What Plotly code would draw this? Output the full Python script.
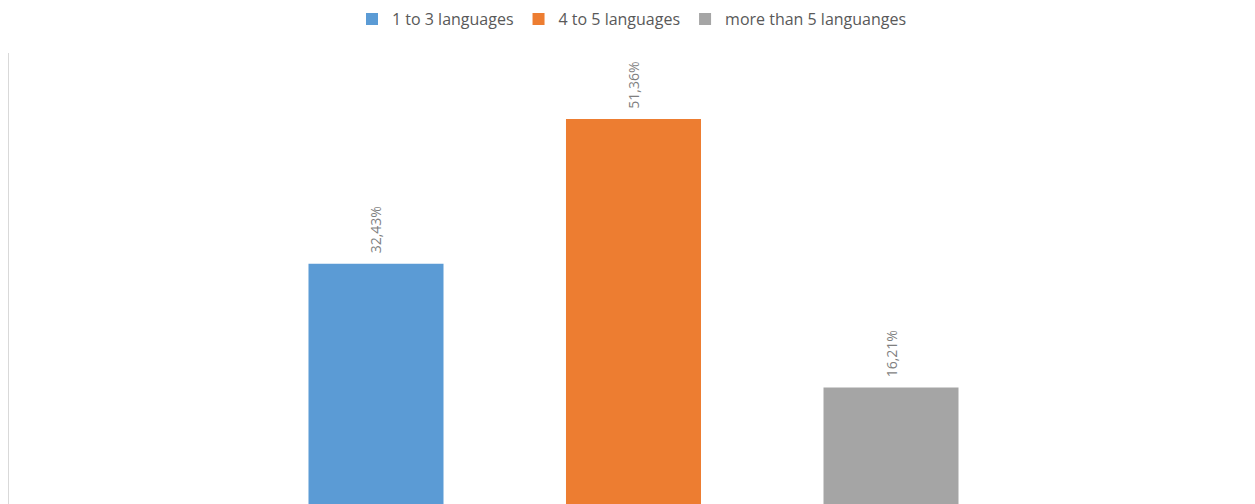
import plotly.graph_objects as go

series = ["1 to 3 languages", "4 to 5 languages", "more than 5 languanges"]
values = [32.43, 51.36, 16.21]
labels = ["32,43%", "51,36%", "16,21%"]
colors = ["#5B9BD5", "#ED7D31", "#A5A5A5"]

fig = go.Figure()
for name, v, lab, c in zip(series, values, labels, colors):
    fig.add_trace(go.Bar(
        x=[""], y=[v], name=name, marker_color=c, marker_line_width=0,
        text=[lab], textposition="outside", textangle=-90,
        texttemplate="\u00a0\u00a0%{text}",
        textfont=dict(color="#7f7f7f", size=14, family="Open Sans"),
        cliponaxis=False,
    ))

# page is rendered with an 8px body margin, so the figure is 8px smaller
fig.update_layout(
    width=1247, height=496,
    margin=dict(l=1, r=0, t=45, b=0, autoexpand=False),
    paper_bgcolor="white", plot_bgcolor="white",
    barmode="group", bargap=0.3815, bargroupgap=0.4757,
    showlegend=True,
    legend=dict(orientation="h", x=0.5, xanchor="center", y=1.075, yanchor="middle",
                yref="paper", font=dict(color="#595959", size=16, family="Open Sans"),
                itemwidth=30, traceorder="normal"),
    font=dict(family="Open Sans"),
)
fig.update_yaxes(range=[0.97, 60], showline=True, linecolor="#d9d9d9", linewidth=1,
                 showgrid=False, zeroline=False, showticklabels=False, ticks="")
fig.update_xaxes(range=[-0.5, 0.4976], showline=False, showgrid=False,
                 showticklabels=False, ticks="")

fig.write_html("out.html")
